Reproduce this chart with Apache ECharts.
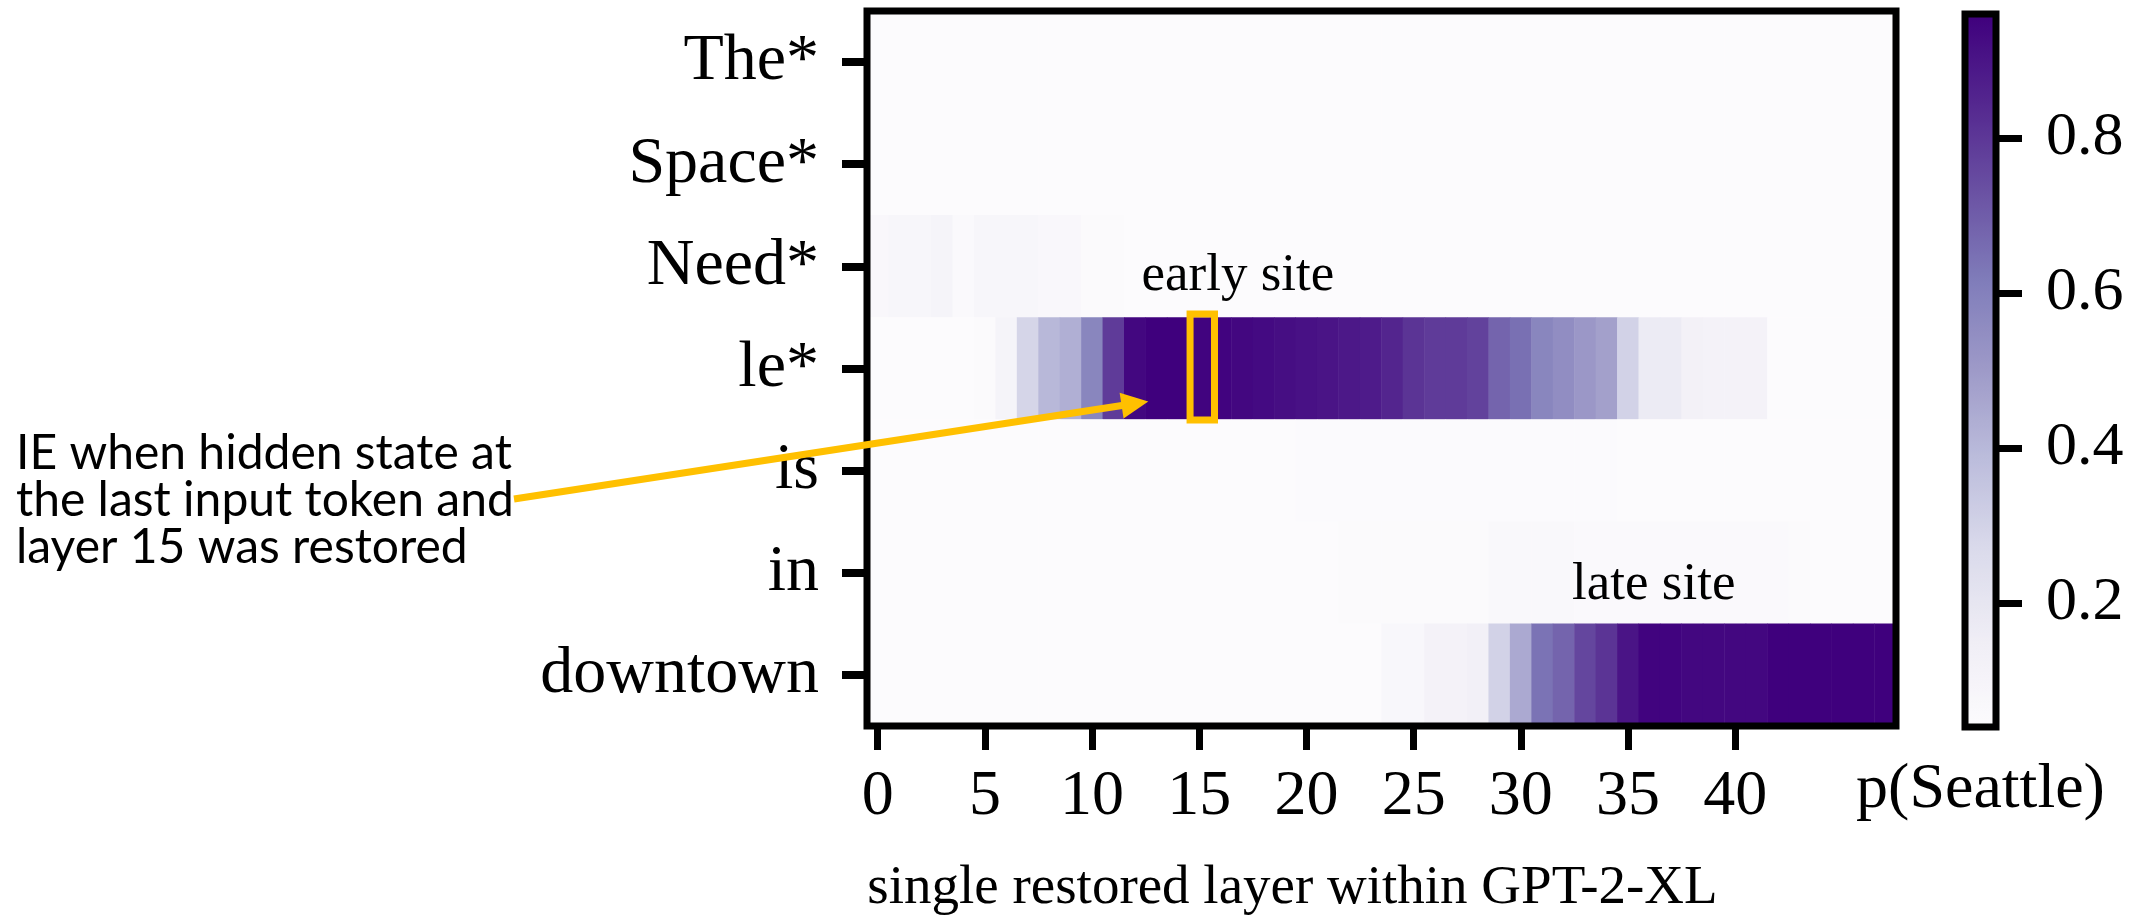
<!DOCTYPE html>
<html>
<head>
<meta charset="utf-8">
<script src="https://cdn.jsdelivr.net/npm/echarts@6/dist/echarts.min.js"></script>
<style>
html,body{margin:0;padding:0;background:#fff;}
#c{width:2139px;height:921px;}
</style>
</head>
<body>
<div id="c"></div>
<script>
// ---------- data ----------
const tokens = ['The*', 'Space*', 'Need*', 'le*', 'is', 'in', 'downtown'];
const layerLabels = ['0','1','2','3','4','5','6','7','8','9','10','11','12','13','14','15','16','17','18','19','20','21','22','23',
                     '24','25','26','27','28','29','30','31','32','33','34','35','36','37','38','39','40','41','42','43','44','45','46','47'];
const shownLayerTicks = ['0','5','10','15','20','25','30','35','40'];
const colorbarTicks = [0.2, 0.4, 0.6, 0.8];
const valueMin = 0.04;
const valueMax = 0.96;
const purples = ['#fcfbfd','#efedf5','#dadaeb','#bcbddc','#9e9ac8','#807dba','#6a51a3','#54278f','#3f007d'];

const rowThe = [0.04,0.04,0.04,0.04,0.04,0.04,0.04,0.04,0.04,0.04,0.04,0.04,0.04,0.04,0.04,0.04,0.04,0.04,0.04,0.04,0.04,0.04,0.04,0.04,
                0.04,0.04,0.04,0.04,0.04,0.04,0.04,0.04,0.04,0.04,0.04,0.04,0.04,0.04,0.04,0.04,0.04,0.04,0.04,0.04,0.04,0.04,0.04,0.04];
const rowSpace = [0.04,0.04,0.04,0.04,0.04,0.04,0.04,0.04,0.04,0.04,0.04,0.04,0.04,0.04,0.04,0.04,0.04,0.04,0.04,0.04,0.04,0.04,0.04,0.04,
                  0.04,0.04,0.04,0.04,0.04,0.04,0.04,0.04,0.04,0.04,0.04,0.04,0.04,0.04,0.04,0.04,0.04,0.04,0.04,0.04,0.04,0.04,0.04,0.04];
const rowNeed = [0.07,0.08,0.08,0.10,0.06,0.08,0.08,0.08,0.07,0.07,0.05,0.05,0.04,0.04,0.04,0.04,0.04,0.04,0.04,0.04,0.04,0.04,0.04,0.04,
                 0.04,0.04,0.04,0.04,0.04,0.04,0.04,0.04,0.04,0.04,0.04,0.04,0.04,0.04,0.04,0.04,0.04,0.04,0.04,0.04,0.04,0.04,0.04,0.04];
const rowLe = [0.04,0.04,0.04,0.04,0.04,0.05,0.10,0.29,0.40,0.43,0.58,0.79,0.94,0.96,0.96,0.95,0.95,0.94,0.93,0.92,0.91,0.90,0.89,0.88,
               0.85,0.81,0.79,0.79,0.77,0.68,0.65,0.58,0.55,0.51,0.48,0.30,0.17,0.17,0.12,0.11,0.11,0.11,0.04,0.04,0.04,0.04,0.04,0.04];
const rowIs = [0.04,0.04,0.04,0.04,0.04,0.04,0.04,0.04,0.04,0.04,0.04,0.04,0.04,0.04,0.04,0.04,0.04,0.04,0.04,0.04,0.045,0.045,0.045,0.045,
               0.045,0.045,0.045,0.045,0.045,0.045,0.045,0.045,0.045,0.045,0.045,0.04,0.04,0.04,0.04,0.04,0.04,0.04,0.04,0.04,0.04,0.04,0.04,0.04];
const rowIn = [0.04,0.04,0.04,0.04,0.04,0.04,0.04,0.04,0.04,0.04,0.04,0.04,0.04,0.04,0.04,0.04,0.04,0.04,0.04,0.04,0.04,0.04,0.05,0.05,
               0.05,0.05,0.05,0.05,0.05,0.067,0.067,0.067,0.067,0.058,0.058,0.058,0.058,0.058,0.058,0.058,0.058,0.058,0.058,0.049,0.04,0.04,0.04,0.04];
const rowDowntown = [0.04,0.04,0.04,0.04,0.04,0.04,0.04,0.04,0.04,0.04,0.04,0.04,0.04,0.04,0.04,0.04,0.04,0.04,0.04,0.04,0.04,0.04,0.04,0.04,
                     0.075,0.075,0.11,0.11,0.13,0.30,0.45,0.64,0.68,0.76,0.81,0.90,0.95,0.95,0.94,0.94,0.94,0.94,0.96,0.96,0.96,0.96,0.96,0.96];

const rows = [rowThe, rowSpace, rowNeed, rowLe, rowIs, rowIn, rowDowntown];

const xTitle = 'single restored layer within GPT-2-XL';
const colorbarTitle = 'p(Seattle)';
const noteLines = ['IE when hidden state at', 'the last input token and', 'layer 15 was restored'];
const earlyLabel = 'early site';
const lateLabel = 'late site';
const highlightLayer = 15;
const highlightToken = 'le*';

// ---------- build ----------
const heatData = [];
rows.forEach((arr, yi) => arr.forEach((v, xi) => heatData.push([xi, yi, v])));

const serif = "'Liberation Serif', 'Times New Roman', serif";
const showTick = (idx, val) => shownLayerTicks.indexOf(String(layerLabels[idx])) >= 0;

const chart = echarts.init(document.getElementById('c'), null, {renderer: 'canvas'});

const option = {
  backgroundColor: '#ffffff',
  animation: false,
  grid: [
    {left: 867, top: 11, width: 1029, height: 718, show: true, z: 10,
     backgroundColor: 'transparent', borderColor: '#000', borderWidth: 7},
    {left: 1965, top: 14, width: 31, height: 713, show: true, z: 10,
     backgroundColor: 'transparent', borderColor: '#000', borderWidth: 7}
  ],
  xAxis: [
    {
      type: 'category', gridIndex: 0, data: layerLabels, position: 'bottom',
      axisLine: {show: false},
      axisTick: {show: true, alignWithLabel: true, interval: showTick, length: 24,
                 lineStyle: {color: '#000', width: 7}},
      axisLabel: {interval: showTick, margin: 39, fontFamily: serif, fontSize: 64, color: '#000'},
      splitLine: {show: false},
      name: xTitle, nameLocation: 'middle', nameGap: 135,
      nameTextStyle: {fontFamily: serif, fontSize: 55, color: '#000', padding: [0, 178, 0, 0]}
    },
    {
      type: 'category', gridIndex: 1, data: [colorbarTitle], position: 'bottom',
      axisLine: {show: false}, axisTick: {show: false}, axisLabel: {show: false},
      splitLine: {show: false},
      name: colorbarTitle, nameLocation: 'middle', nameGap: 31,
      nameTextStyle: {fontFamily: serif, fontSize: 64, color: '#000'}
    }
  ],
  yAxis: [
    {
      type: 'category', gridIndex: 0, data: tokens, inverse: true,
      axisLine: {show: false},
      axisTick: {show: true, alignWithLabel: true, length: 25, lineStyle: {color: '#000', width: 8}},
      axisLabel: {margin: 48, fontFamily: serif, fontSize: 66, color: '#000'},
      splitLine: {show: false}
    },
    {
      type: 'value', gridIndex: 1, min: valueMin, max: valueMax, position: 'right',
      axisLine: {show: false}, splitLine: {show: false},
      axisTick: {show: true, customValues: colorbarTicks, length: 26, lineStyle: {color: '#000', width: 7}},
      axisLabel: {customValues: colorbarTicks, margin: 50, fontFamily: serif, fontSize: 62, color: '#000',
                  formatter: v => Number(v).toFixed(1)}
    }
  ],
  visualMap: {
    type: 'continuous', min: valueMin, max: valueMax, seriesIndex: 0, dimension: 2,
    inRange: {color: purples}, calculable: false, show: true, orient: 'vertical',
    left: 1965, top: 14, itemWidth: 31, itemHeight: 713, text: null, padding: 0,
    hoverLink: false
  },
  series: [{
    type: 'heatmap', xAxisIndex: 0, yAxisIndex: 0, data: heatData,
    itemStyle: {borderWidth: 0}, emphasis: {disabled: true}, progressive: 0
  }]
};
chart.setOption(option);

// ---------- annotations positioned from the axes ----------
const p00 = chart.convertToPixel({gridIndex: 0}, [0, 0]);
const p11 = chart.convertToPixel({gridIndex: 0}, [1, 1]);
const dx = p11[0] - p00[0], dy = p11[1] - p00[1];
const at = (i, j) => [p00[0] + i * dx, p00[1] + j * dy];

const hl = at(highlightLayer, tokens.indexOf(highlightToken));
const orange = '#FFC000';
const tip = [hl[0] - 51, hl[1] + 33];
const start = [514, 499];
const ang = Math.atan2(tip[1] - start[1], tip[0] - start[0]);
const headLen = 27, headHalf = 13;
const base = [tip[0] - headLen * Math.cos(ang), tip[1] - headLen * Math.sin(ang)];
const perp = [-Math.sin(ang), Math.cos(ang)];
const early = at(16.8, 2.1);
const late = at(36.2, 5.12);

chart.setOption({
  graphic: [
    {type: 'rect', z: 20, shape: {x: hl[0] - dx / 2 - 1.5 + 3, y: hl[1] - dy / 2 - 2 - 1.5, width: dx + 3, height: dy + 4},
     style: {fill: 'none', stroke: orange, lineWidth: 7}},
    {type: 'line', z: 20, shape: {x1: start[0], y1: start[1], x2: base[0] + 2 * Math.cos(ang), y2: base[1] + 2 * Math.sin(ang)},
     style: {stroke: orange, lineWidth: 7}},
    {type: 'polygon', z: 20, shape: {points: [tip,
       [base[0] + perp[0] * headHalf, base[1] + perp[1] * headHalf],
       [base[0] - perp[0] * headHalf, base[1] - perp[1] * headHalf]]},
     style: {fill: orange}},
    {type: 'text', z: 20, x: early[0], y: early[1],
     style: {text: earlyLabel, fill: '#000', font: "53px 'Liberation Serif'", align: 'center', verticalAlign: 'middle'}},
    {type: 'text', z: 20, x: late[0], y: late[1],
     style: {text: lateLabel, fill: '#000', font: "53px 'Liberation Serif'", align: 'center', verticalAlign: 'middle'}},
    {type: 'text', z: 20, x: 16, y: 430,
     style: {text: noteLines.join('\n'), fill: '#000', font: "48px Lato", lineHeight: 47, align: 'left', verticalAlign: 'top'}}
  ]
});
</script>
</body>
</html>
